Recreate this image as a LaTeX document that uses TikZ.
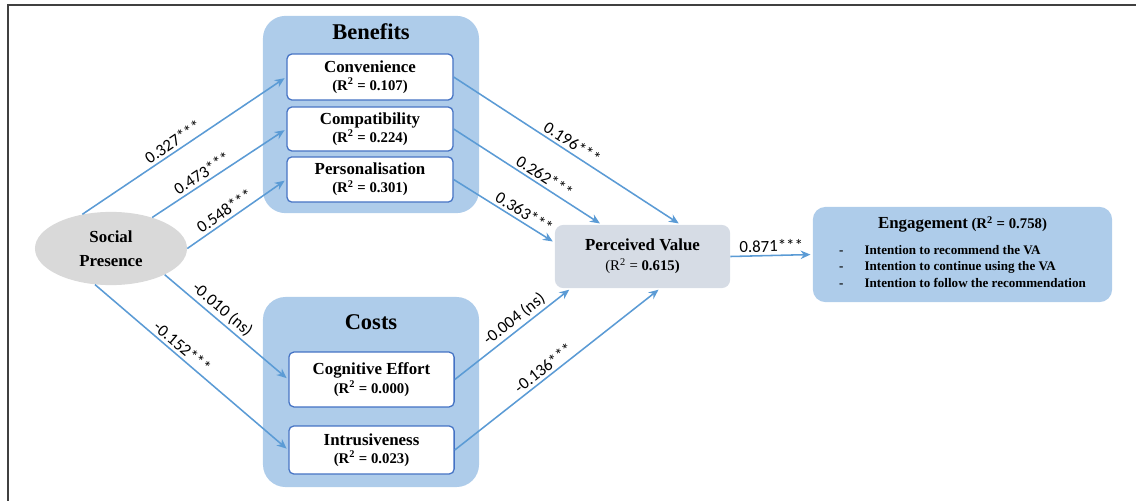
\documentclass[tikz,border=0pt]{standalone}
\usepackage{fontspec}
\setmainfont{Liberation Serif}
\newfontfamily\lblfont{Carlito}
\usetikzlibrary{arrows.meta}
\usetikzlibrary{shapes.geometric}
\definecolor{grpblue}{RGB}{174,204,234}
\definecolor{boxblue}{RGB}{68,114,196}
\definecolor{arrowblue}{RGB}{91,155,213}
\definecolor{spgray}{RGB}{217,217,217}
\definecolor{pvgray}{RGB}{214,220,229}
\newcommand{\rsqline}[1]{{\fontsize{10.5}{12}\selectfont (R\textsuperscript{2} = #1)}}
\tikzset{group/.style={fill=grpblue, rounded corners=16pt, minimum width=5.4cm, inner sep=0},
 grouptitle/.style={font=\fontsize{16}{18}\selectfont\bfseries},
 construct/.style={draw=boxblue, line width=0.9pt, fill=white, rounded corners=3.5pt,
   align=center, minimum width=4.15cm, inner sep=0, font=\fontsize{12}{13}\selectfont\bfseries},
 path/.style={draw=arrowblue, line width=1.1pt, -{Stealth[length=7pt,width=6pt]}, shorten >=1.5pt},
 coef/.style={font=\lblfont\fontsize{12}{14}\selectfont, sloped, above, inner sep=2pt, text=black},
 }

\begin{document}
\begin{tikzpicture}[x=0.025cm, y=-0.025cm]
        \useasboundingbox (0,0) rectangle (1136,500);
        \draw[line width=1.5pt, black!75] (8,505) -- (8,5) -- (1136,5);

        % the two groups
        \node[group, minimum height=4.93cm] (benefits) at (371,114.5) {};
        \node[grouptitle] (benefitstitle) at (371,32) {Benefits};
        \node[group, minimum height=4.75cm] (costs) at (371,392) {};
        \node[grouptitle] (coststitle) at (371,322) {Costs};

        \node[construct, minimum height=1.15cm] (conv) at (370,77) {Convenience\\\rsqline{0.107}};
        \node[construct, minimum height=1.1cm] (compat) at (370,129) {Compatibility\\\rsqline{0.224}};
        \node[construct, minimum height=1.13cm] (pers) at (370,179.5) {Personalisation\\\rsqline{0.301}};
        \node[construct, minimum width=4.13cm, minimum height=1.37cm] (cog) at (371.5,379.5) {Cognitive Effort\\\rsqline{0.000}};
        \node[construct, minimum width=4.13cm, minimum height=1.2cm] (intr) at (371.5,450) {Intrusiveness\\\rsqline{0.023}};

        \node[ellipse, fill=spgray, minimum width=3.8cm, minimum height=1.83cm, inner sep=0, align=center,
              font=\fontsize{12}{17}\selectfont\bfseries] (sp) at (111,248.5) {Social\\Presence};

        \node[fill=pvgray, rounded corners=6pt, minimum width=4.38cm, minimum height=1.58cm, inner sep=0,
              align=center, font=\fontsize{12}{14}\selectfont] (pv) at (642.5,256.5)
              {\textbf{Perceived Value}\\{\fontsize{10.5}{12}\selectfont (R\textsuperscript{2} = \textbf{0.615)}}};

        \node[fill=grpblue, rounded corners=9pt, minimum width=7.48cm, minimum height=2.38cm, inner sep=0,
              align=center, font=\bfseries] (eng) at (962.5,254.5)
              {{\fontsize{12}{14}\selectfont Engagement} {\fontsize{10.5}{12}\selectfont(R\textsuperscript{2} = 0.758)}\\[6pt]
               {\fontsize{9.3}{12}\selectfont
               \begin{tabular}{@{}l@{\hspace{15pt}}l@{}}
               - & Intention to recommend the VA\\
               - & Intention to continue using the VA\\
               - & Intention to follow the recommendation
               \end{tabular}}};

        % paths
        \draw[path] (sp.130) -- node[coef, pos=0.47] {0.327***} (conv.west);
        \draw[path] (sp.37) -- node[coef, pos=0.41] {0.473***} (compat.west);
        \draw[path] (sp.east) -- node[coef, pos=0.43] {0.548***} (pers.west);
        \draw[path] (sp.334) -- node[coef, pos=0.41] {-0.010 (ns)} (cog.west);
        \draw[path] (sp.246) -- node[coef, pos=0.42] {-0.152***} (intr.west);
        \draw[path] (conv.east) -- node[coef, pos=0.5] {0.196***} (pv.40);
        \draw[path] (compat.east) -- node[coef, pos=0.58] {0.262***} (pv.142);
        \draw[path] (pers.east) -- node[coef, pos=0.65] {0.363***} (pv.171);
        \draw[path] (cog.east) -- node[coef, pos=0.57] {-0.004 (ns)} (pv.204);
        \draw[path] (intr.east) -- node[coef, pos=0.46] {-0.136***} (pv.299);
        \draw[path] (pv.east) -- node[coef, pos=0.5] {0.871***} (eng.west);
    \end{tikzpicture}
\end{document}
